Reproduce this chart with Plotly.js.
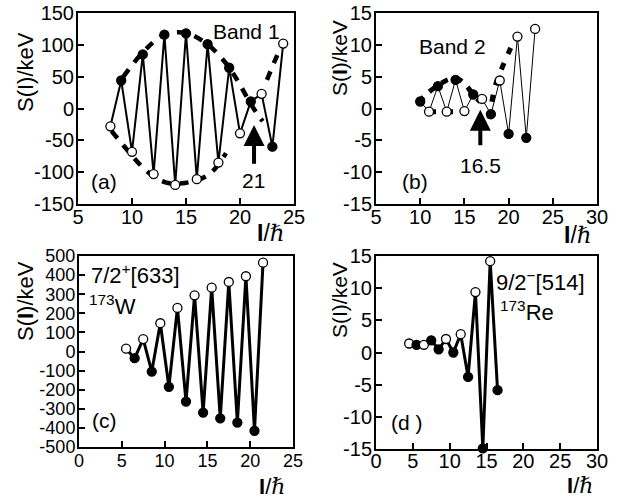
<!DOCTYPE html>
<html><head><meta charset="utf-8">
<script src="https://cdn.plot.ly/plotly-3.0.1.min.js"></script>
<style>html,body{margin:0;padding:0;background:#fff}#chart{width:632px;height:499px}</style>
</head><body><div id="chart"></div>
<script>
// ---- Panel (a): Band 1 ----
const spinA = [8, 9, 10, 11, 12, 13, 14, 15, 16, 17, 18, 19, 20, 21, 22, 23, 24];
const sA    = [-28, 44, -68, 85, -103, 116, -120, 118, -111, 101, -85, 64, -39, 11, 23, -60, 102];
const typeA = ['o','f','o','f','o','f','o','f','o','f','o','f','o','f','o','f','o'];
const envAUpI = [9.2, 11.0, 12.9, 14.9, 16.9, 18.6, 19.7, 20.8, 21.5, 22.1];
const envAUpS = [50, 88, 115, 119, 102, 73, 46, 13, -6, -20];
const envALoI = [8.1, 9.7, 11.4, 13.1, 14.9, 17.1, 18.7];
const envALoS = [-35, -68, -99, -116, -117, -104, -70];
const envARI  = [22.5, 23.3, 23.9];
const envARS  = [45, 78, 100];

// ---- Panel (b): Band 2 ----
const spinB = [10, 11, 12, 13, 14, 15, 16, 17, 18, 19, 20, 21, 22, 23];
const sB    = [1.1, -0.5, 3.5, -0.5, 4.5, -0.4, 2.2, 1.5, -0.9, 4.4, -4.0, 11.3, -4.6, 12.5];
const typeB = ['f','o','f','o','f','o','f','o','f','o','f','o','f','o'];
const envBUpI = [9.8, 11.0, 12.1, 13.3, 14.3, 15.2, 16.0, 16.8];
const envBUpS = [1.0, 2.6, 3.7, 4.6, 4.6, 3.6, 2.2, 1.0];
const envBLoI = [11, 15];
const envBLoS = [-0.5, -0.5];
const envBRI  = [17.8, 18.5, 19.5, 20.7];
const envBRS  = [-1.6, 3.6, 7.2, 10.9];

// ---- Panel (c): 173W 7/2+[633] ----
const spinC = [5.5, 6.5, 7.5, 8.5, 9.5, 10.5, 11.5, 12.5, 13.5, 14.5, 15.5, 16.5, 17.5, 18.5, 19.5, 20.5, 21.5];
const sC    = [15, -35, 65, -105, 148, -185, 228, -262, 294, -320, 334, -350, 364, -372, 394, -415, 465];
const typeC = ['o','f','o','f','o','f','o','f','o','f','o','f','o','f','o','f','o'];

// ---- Panel (d): 173Re 9/2-[514] ----
const spinD = [4.5, 5.5, 6.5, 7.5, 8.5, 9.5, 10.5, 11.5, 12.5, 13.5, 14.5, 15.5, 16.5];
const sD    = [1.4, 1.2, 1.2, 1.9, 0.5, 2.1, 0.0, 2.85, -3.8, 9.4, -14.9, 14.2, -5.85];
const typeD = ['o','f','o','f','f','o','f','o','f','o','f','o','f'];

// ---- tick labels ----
const tickAX = ['5','10','15','20','25'];
const tickAY = ['-150','-100','-50','0','50','100','150'];
const tickBX = ['5','10','15','20','25','30'];
const tickBY = ['-15','-10','-5','0','5','10','15'];
const tickCX = ['0','5','10','15','20','25'];
const tickCY = ['-500','-400','-300','-200','-100','0','100','200','300','400','500'];
const tickDX = ['0','5','10','15','20','25','30'];
const tickDY = ['-15','-10','-5','0','5','10','15'];

const W = 632, H = 499;
const fx = p => p / W;
const fy = p => 1 - p / H;

function dataTrace(x, y, types, xa, ya, lw) {
  return {
    x: x, y: y, xaxis: xa, yaxis: ya, type: 'scatter', mode: 'lines+markers',
    line: {color: '#000', width: lw},
    marker: {size: 9, color: types.map(t => t === 'f' ? '#000' : '#fff'),
             line: {color: '#000', width: 1.3}},
    cliponaxis: false, hoverinfo: 'skip'
  };
}
function envTrace(x, y, xa, ya, w, dash) {
  return {
    x: x, y: y, xaxis: xa, yaxis: ya, type: 'scatter', mode: 'lines',
    line: {color: '#000', width: w, dash: dash, shape: 'spline'},
    hoverinfo: 'skip'
  };
}

const traces = [
  envTrace(envAUpI, envAUpS, 'x', 'y', 4.5, '9px,9px'),
  envTrace(envALoI, envALoS, 'x', 'y', 4.5, '9px,9px'),
  envTrace(envARI, envARS, 'x', 'y', 4.5, '9px,9px'),
  dataTrace(spinA, sA, typeA, 'x', 'y', 2),
  envTrace(envBUpI, envBUpS, 'x2', 'y2', 5, '7px,8px'),
  envTrace(envBLoI, envBLoS, 'x2', 'y2', 5, '7px,10px'),
  envTrace(envBRI, envBRS, 'x2', 'y2', 5, '7px,10px'),
  dataTrace(spinB, sB, typeB, 'x2', 'y2', 1),
  dataTrace(spinC, sC, typeC, 'x3', 'y3', 3),
  dataTrace(spinD, sD, typeD, 'x4', 'y4', 3)
];

const tickFont = {family: 'Liberation Sans, Arial, sans-serif', size: 20, color: '#000'};
function axis(domain, range, ticks, anchor, fontSize, standoff) {
  return {
    domain: domain, range: range, anchor: anchor,
    tickmode: 'array', tickvals: ticks.map(Number), ticktext: ticks,
    ticks: 'inside', ticklen: 6, tickwidth: 2, tickcolor: '#000',
    showline: true, mirror: true, linewidth: 2, linecolor: '#000',
    showgrid: false, zeroline: false, ticklabelstandoff: standoff || 0,
    tickfont: Object.assign({}, tickFont, {size: fontSize || 20})
  };
}

const layout = {
  width: W, height: H, margin: {l: 0, r: 0, t: 0, b: 0},
  paper_bgcolor: '#fff', plot_bgcolor: '#fff', showlegend: false,
  font: {family: 'Liberation Sans, Arial, sans-serif', color: '#000'},
  xaxis:  axis([fx(78), fx(294)],  [5, 25],    tickAX, 'y', 20, -6),
  yaxis:  axis([fy(204), fy(13)],  [-150, 150], tickAY, 'x', 20, -2),
  xaxis2: axis([fx(376), fx(597)], [5, 30],    tickBX, 'y2', 20, -6),
  yaxis2: axis([fy(204), fy(13)],  [-15, 15],  tickBY, 'x2', 20, -2),
  xaxis3: axis([fx(79), fx(293)],  [0, 25],    tickCX, 'y3', 18, -4),
  yaxis3: axis([fy(447), fy(256)], [-500, 500], tickCY, 'x3', 18, -2),
  xaxis4: axis([fx(376), fx(597)], [0, 30],    tickDX, 'y4', 20, -7),
  yaxis4: axis([fy(449), fy(256)], [-15, 15],  tickDY, 'x4', 20, -2),
  annotations: []
};

function txt(text, x, y, size, xanchor, angle) {
  layout.annotations.push({
    text: text, xref: 'paper', yref: 'paper', x: fx(x), y: fy(y),
    xanchor: xanchor || 'center', yanchor: 'middle', showarrow: false,
    textangle: angle || 0,
    font: {family: 'Liberation Sans, Arial, sans-serif', size: size, color: '#000'}
  });
}
const ylab = 'S(I)/keV';
const ylabB = 'S(<b>I</b>)/keV';
txt(ylab, 25, 72, 22, 'center', -90);
txt(ylabB, 339, 58, 21, 'center', -90);
txt(ylabB, 25, 301, 22, 'center', -90);
txt(ylab, 339, 300, 21, 'center', -90);
const xlab = '<b>I</b>/<span style="font-family:Liberation Serif, DejaVu Serif, serif"><i>ℏ</i></span>';
txt(xlab, 271, 233, 23);
txt(xlab, 578, 235, 23);
txt(xlab, 272, 486, 22);
txt(xlab, 580, 485, 22);

txt('Band 1', 246, 32, 21);
txt('(a)', 104, 182, 21);
txt('21', 253, 180, 21);
txt('Band 2', 452, 47, 21);
txt('16.5', 481, 165, 21);
txt('(b)', 415, 182, 21);
txt('7/2<sup>+</sup>[633]', 89, 274, 22, 'left');
txt('<sup>173</sup>W', 87, 305, 22, 'left');
txt('(c)', 104, 420, 21);
txt('9/2<sup>−</sup>[514]', 494, 281, 22, 'left');
txt('<sup>173</sup>Re', 498, 311, 22, 'left');
txt('(d )', 389, 422, 21, 'left');

// arrows
layout.annotations.push({
  text: '', xref: 'x', yref: 'y', axref: 'x', ayref: 'y',
  x: 21.3, y: -26, ax: 21.3, ay: -89,
  showarrow: true, arrowhead: 2, arrowsize: 1.05, arrowwidth: 4, arrowcolor: '#000', standoff: 0
});
layout.annotations.push({
  text: '', xref: 'x2', yref: 'y2', axref: 'x2', ayref: 'y2',
  x: 16.8, y: -0.2, ax: 16.8, ay: -6,
  showarrow: true, arrowhead: 2, arrowsize: 1.05, arrowwidth: 4, arrowcolor: '#000', standoff: 0
});

Plotly.newPlot('chart', traces, layout, {staticPlot: true, displayModeBar: false});
</script>
</body></html>
